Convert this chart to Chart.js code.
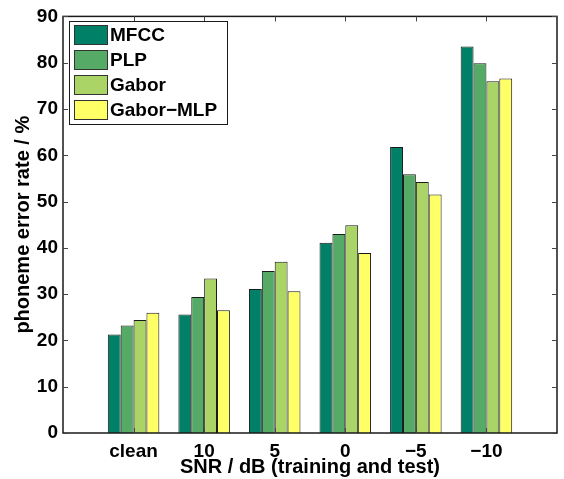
<!DOCTYPE html>
<html>
<head>
<meta charset="utf-8">
<script src="https://cdn.jsdelivr.net/npm/chart.js@4"></script>
<style>
  html, body { margin: 0; padding: 0; background: #fff; }
  #wrap { width: 564px; height: 479px; position: relative; }
</style>
</head>
<body>
<div id="wrap"><canvas id="chart"></canvas></div>
<script>
// 类别和数据
const categories = ['clean', '10', '5', '0', '−5', '−10'];
const mfcc     = [21.3, 25.6, 31.1, 41.1, 61.8, 83.5];
const plp      = [23.2, 29.4, 35.0, 43.0, 55.9, 79.9];
const gabor    = [24.4, 33.4, 37.0, 44.9, 54.2, 76.0];
const gaborMlp = [26.0, 26.5, 30.6, 38.9, 51.5, 76.6];
const yTicks   = [0, 10, 20, 30, 40, 50, 60, 70, 80, 90];

const seriesNames  = ['MFCC', 'PLP', 'Gabor', 'Gabor−MLP'];
const seriesColors = ['#008066', '#55aa66', '#aad466', '#ffff66'];

// 两端留空位，与原图的坐标范围一致
const labels = [''].concat(categories, ['']);
const pad = arr => [null].concat(arr, [null]);

const FONT = "'Liberation Sans', Arial, Helvetica, sans-serif";

// 画框线、向内的刻度和图例
const axesBox = {
    id: 'axesBox',
    afterDraw(chart) {
        const { ctx, chartArea: a, scales } = chart;
        ctx.save();
        ctx.strokeStyle = '#1a1a1a';
        ctx.lineWidth = 1.5;
        ctx.strokeRect(a.left, a.top, a.right - a.left, a.bottom - a.top);

        ctx.lineWidth = 1;
        ctx.strokeStyle = '#444';
        const tl = 5;
        yTicks.forEach(v => {
            const y = Math.round(scales.y.getPixelForValue(v)) + 0.5;
            ctx.beginPath();
            ctx.moveTo(a.left, y); ctx.lineTo(a.left + tl, y);
            ctx.moveTo(a.right, y); ctx.lineTo(a.right - tl, y);
            ctx.stroke();
        });
        categories.forEach((c, i) => {
            const x = Math.round(scales.x.getPixelForValue(i + 1)) + 0.5;
            ctx.beginPath();
            ctx.moveTo(x, a.bottom); ctx.lineTo(x, a.bottom - tl);
            ctx.moveTo(x, a.top); ctx.lineTo(x, a.top + tl);
            ctx.stroke();
        });

        // 图例
        const lx = 69, ly = 21, lw = 158, lh = 103;
        ctx.fillStyle = '#fff';
        ctx.fillRect(lx, ly, lw, lh);
        ctx.strokeStyle = '#1a1a1a';
        ctx.lineWidth = 1;
        ctx.strokeRect(lx + 0.5, ly + 0.5, lw, lh);
        ctx.font = 'bold 19px ' + FONT;
        ctx.textBaseline = 'middle';
        chart.data.datasets.forEach((ds, i) => {
            const sy = 25 + i * 25;
            ctx.fillStyle = ds.backgroundColor;
            ctx.fillRect(74, sy, 33, 19);
            ctx.strokeStyle = '#333';
            ctx.strokeRect(74.5, sy + 0.5, 33, 19);
            ctx.fillStyle = '#000';
            ctx.fillText(ds.label, 110, sy + 10.5);
        });
        ctx.restore();
    }
};

new Chart(document.getElementById('chart'), {
    type: 'bar',
    data: {
        labels: labels,
        datasets: [mfcc, plp, gabor, gaborMlp].map((d, i) => ({
            label: seriesNames[i],
            data: pad(d),
            backgroundColor: seriesColors[i],
            borderColor: '#1a1a1a',
            borderWidth: 1,
            barPercentage: 1.0,
            categoryPercentage: 0.73
        }))
    },
    options: {
        responsive: true,
        maintainAspectRatio: false,
        animation: false,
        layout: { padding: { top: 16, right: 4, left: 0, bottom: 0 } },
        plugins: {
            legend: { display: false },
            tooltip: { enabled: false }
        },
        scales: {
            x: {
                offset: false,
                grid: { display: false, drawTicks: false },
                border: { display: false },
                ticks: {
                    color: '#000',
                    font: { family: FONT, size: 19, weight: 'bold' },
                    padding: 7,
                    maxRotation: 0,
                    autoSkip: false
                },
                title: {
                    display: true,
                    text: 'SNR / dB (training and test)',
                    color: '#000',
                    font: { family: FONT, size: 20, weight: 'bold' },
                    padding: { top: 0, bottom: 0 }
                },
                afterFit(scale) { scale.height = 46; }
            },
            y: {
                min: 0,
                max: 90,
                grid: { display: false, drawTicks: false },
                border: { display: false },
                afterBuildTicks(scale) { scale.ticks = yTicks.map(v => ({ value: v })); },
                ticks: {
                    color: '#000',
                    font: { family: FONT, size: 19, weight: 'bold' },
                    padding: 5
                },
                title: {
                    display: true,
                    text: 'phoneme error rate / %',
                    color: '#000',
                    font: { family: FONT, size: 20, weight: 'bold' },
                    padding: { top: 11, bottom: 0 }
                },
                afterFit(scale) { scale.width = 63; }
            }
        }
    },
    plugins: [axesBox]
});
</script>
</body>
</html>
